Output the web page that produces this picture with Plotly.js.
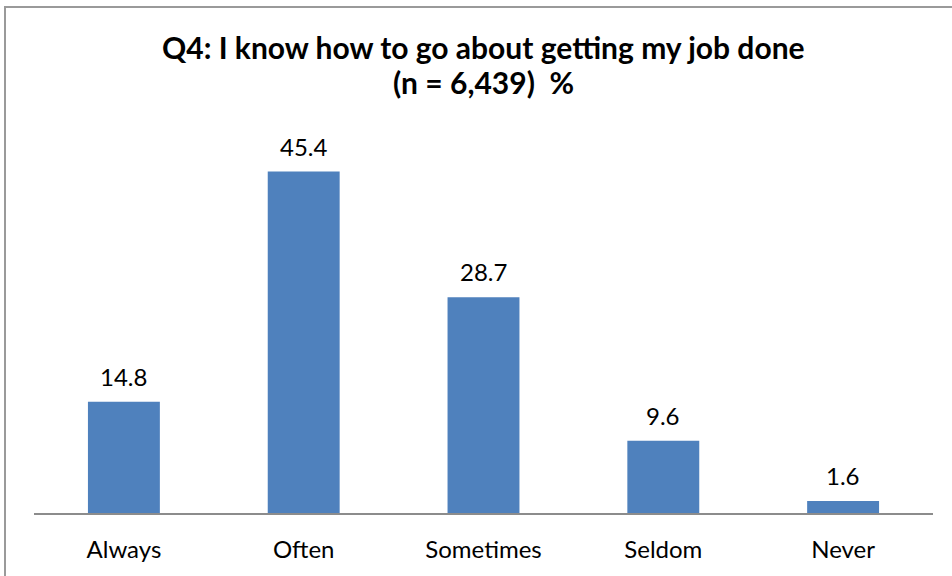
<!DOCTYPE html>
<html><head><meta charset="utf-8">
<script src="https://cdn.plot.ly/plotly-3.0.1.min.js"></script>
<style>
body{margin:0;padding:0;background:#fff;}
#frame{position:absolute;left:4px;top:6px;width:960px;height:600px;border-left:2px solid #9a9a9a;border-top:2px solid #9a9a9a;box-sizing:border-box;}
#chart{position:absolute;left:0;top:0;width:952px;height:576px;}
</style>
</head><body>
<div id="frame"></div>
<div id="chart"></div>
<script>
const categories = ["Always", "Often", "Sometimes", "Seldom", "Never"];
const percents = [14.8, 45.4, 28.7, 9.6, 1.6];
const titleLines = ["Q4: I know how to go about getting my job done", "(n = 6,439)  %"];

const font = "Lato, 'Open Sans', sans-serif";
const trace = {
  type: 'bar', x: categories, y: percents,
  marker: {color: '#4F81BD'},
  hoverinfo: 'none'
};
const annotations = categories.map((c, i) => ({
  x: c, y: percents[i], xref: 'x', yref: 'y',
  text: percents[i].toFixed(1), showarrow: false,
  yanchor: 'bottom', yshift: 9,
  font: {family: font, size: 24, color: '#000'}
}));
const titleY = [1.186, 1.094];
titleLines.forEach((t, i) => annotations.push({
  x: 0.5, xref: 'paper', y: titleY[i], yref: 'paper', xanchor: 'center', yanchor: 'bottom',
  text: '<b>' + t.replace(/  /g, '&nbsp; ') + '</b>', showarrow: false,
  font: {family: font, size: 30, color: '#000'}
}));
const layout = {
  width: 952, height: 576,
  margin: {l: 34, r: 19, t: 137, b: 63},
  paper_bgcolor: 'rgba(0,0,0,0)', plot_bgcolor: 'rgba(0,0,0,0)',
  bargap: 0.6,
  showlegend: false,
  xaxis: {showline: true, linecolor: '#8c8c8c', linewidth: 2, ticks: '', tickfont: {family: font, size: 24, color: '#000'}, ticklabelstandoff: 14, fixedrange: true},
  yaxis: {range: [0, 50], visible: false, showgrid: false, zeroline: false, fixedrange: true},
  annotations: annotations
};
Plotly.newPlot('chart', [trace], layout, {displayModeBar: false, staticPlot: true});
</script>
</body></html>
